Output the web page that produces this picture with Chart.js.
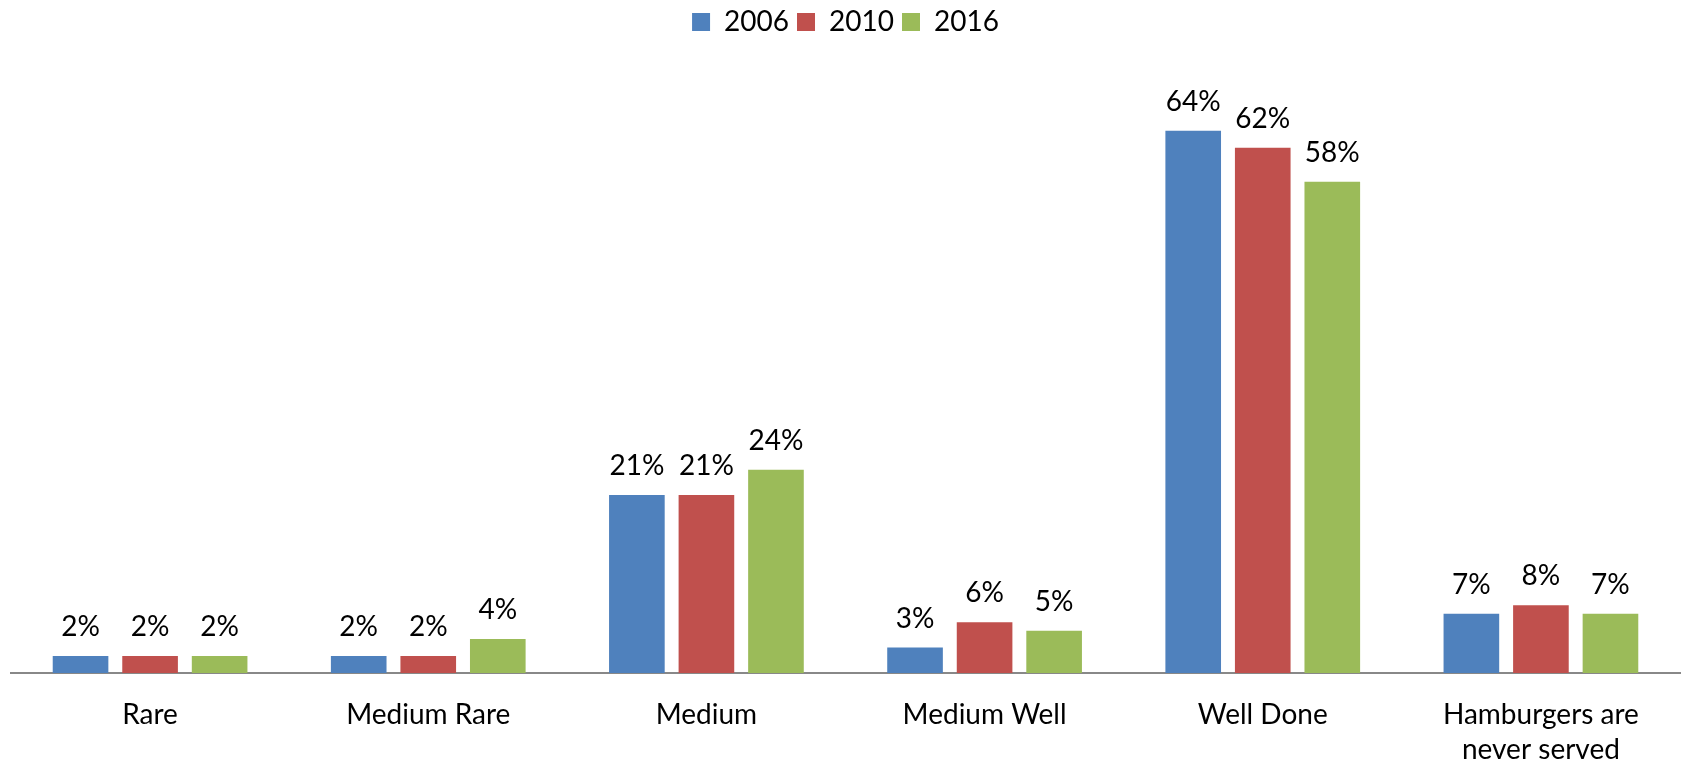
<!DOCTYPE html>
<html>
<head>
<meta charset="utf-8">
<script src="https://cdn.jsdelivr.net/npm/chart.js@4/dist/chart.umd.min.js"></script>
<style>
  html, body { margin: 0; padding: 0; background: #fff; }
  #wrap { width: 1683px; height: 765px; position: relative; }
</style>
</head>
<body>
<div id="wrap"><canvas id="chart"></canvas></div>
<script>
const categories = ["Rare", "Medium Rare", "Medium", "Medium Well", "Well Done", ["Hamburgers are", "never served"]];
const years = ["2006", "2010", "2016"];
const values2006 = [2, 2, 21, 3, 64, 7];
const values2010 = [2, 2, 21, 6, 62, 8];
const values2016 = [2, 4, 24, 5, 58, 7];
const colors = ["#4F81BD", "#C0504D", "#9BBB59"];

const FONT = "Lato, 'Open Sans', sans-serif";

// percentage above each bar
const valueLabels = {
    id: "valueLabels",
    afterDatasetsDraw(chart) {
        const ctx = chart.ctx;
        ctx.save();
        ctx.font = "28px " + FONT;
        ctx.fillStyle = "#000";
        ctx.textAlign = "center";
        ctx.textBaseline = "alphabetic";
        chart.data.datasets.forEach((ds, i) => {
            chart.getDatasetMeta(i).data.forEach((bar, j) => {
                ctx.fillText(ds.data[j] + "%", bar.x, bar.y - 20);
            });
        });
        ctx.restore();
    }
};

// extra room under the legend
const legendGap = {
    id: "legendGap",
    beforeInit(chart) {
        const fit = chart.legend.fit;
        chart.legend.fit = function () {
            fit.bind(chart.legend)();
            this.height += 34;
        };
    }
};

const ctx = document.getElementById("chart").getContext("2d");

new Chart(ctx, {
    type: "bar",
    data: {
        labels: categories,
        datasets: [
            { label: years[0], data: values2006, backgroundColor: colors[0] },
            { label: years[1], data: values2010, backgroundColor: colors[1] },
            { label: years[2], data: values2016, backgroundColor: colors[2] }
        ]
    },
    options: {
        responsive: true,
        maintainAspectRatio: false,
        animation: false,
        layout: { padding: { top: 0, left: 11, right: 3, bottom: 0 } },
        datasets: {
            bar: { categoryPercentage: 0.75, barPercentage: 0.8, borderWidth: 0 }
        },
        scales: {
            x: {
                grid: { display: false, drawTicks: false },
                border: { display: true, color: "#888888", width: 2 },
                ticks: {
                    color: "#000",
                    padding: 24,
                    maxRotation: 0,
                    autoSkip: false,
                    font: { family: FONT, size: 28, lineHeight: 1.25 }
                },
                afterFit(scale) { scale.height = 92; }
            },
            y: {
                display: false,
                min: 0,
                max: 70
            }
        },
        plugins: {
            legend: {
                position: "top",
                labels: {
                    color: "#000",
                    boxWidth: 18,
                    boxHeight: 18,
                    padding: 8,
                    font: { family: FONT, size: 28 }
                }
            },
            tooltip: { enabled: false }
        }
    },
    plugins: [valueLabels, legendGap]
});
</script>
</body>
</html>
